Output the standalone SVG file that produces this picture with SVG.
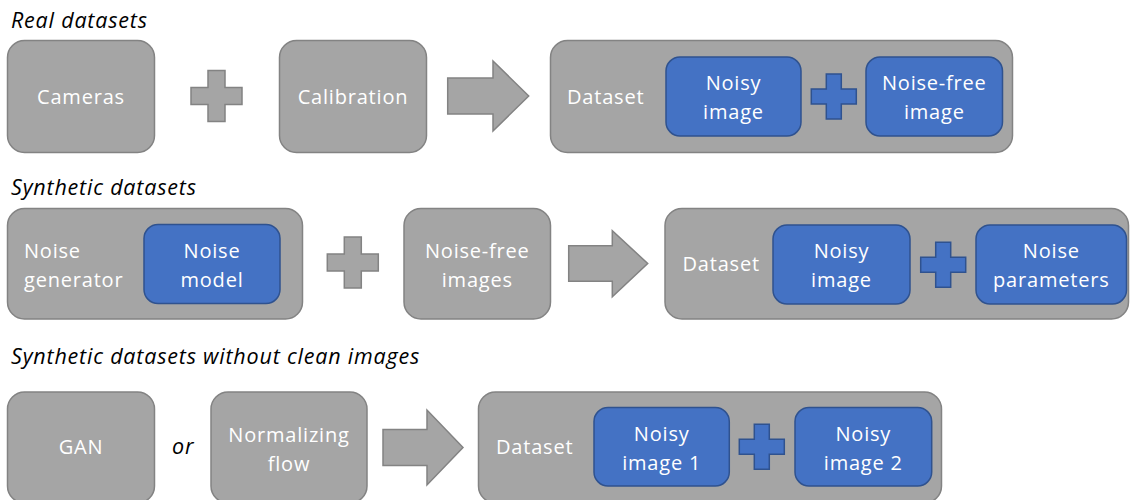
<svg xmlns="http://www.w3.org/2000/svg" width="1130" height="500" viewBox="0 0 1130 500">
<style>
.g{fill:#A5A5A5;stroke:#838383;stroke-width:1.5}
.b{fill:#4472C4;stroke:#2F528F;stroke-width:1.5}
.t{font-family:"Open Sans","Noto Sans",sans-serif;font-size:20px;fill:#FFFFFF;letter-spacing:0.8px}
.c{text-anchor:middle}
.h{font-family:"Open Sans","Noto Sans",sans-serif;font-size:21.5px;font-style:italic;fill:#000000;letter-spacing:0.8px}
</style>
<rect width="1130" height="500" fill="#FFFFFF"/>
<text class="h" x="11" y="28">Real datasets</text>
<text class="h" x="11" y="195">Synthetic datasets</text>
<text class="h" x="11" y="364">Synthetic datasets without clean images</text>

<g id="cameras"><rect class="g" x="7.5" y="40.5" width="147" height="112" rx="17"/><text class="t c" x="81" y="104">Cameras</text></g>
<g id="calibration"><rect class="g" x="279.5" y="40.5" width="147" height="112" rx="17"/><text class="t c" x="353" y="104">Calibration</text></g>
<g id="dataset1"><rect class="g" x="550.5" y="40.5" width="462" height="112" rx="17"/><text class="t" x="567" y="104">Dataset</text>
<rect class="b" x="666" y="57" width="135" height="79" rx="14"/><text class="t c" x="733.5" y="90">Noisy</text><text class="t c" x="733.5" y="118.5">image</text>
<path class="b" d="M826.3,74H841.3V89H856.3V104H841.3V119H826.3V104H811.3V89H826.3Z"/>
<rect class="b" x="866" y="57" width="136.5" height="79" rx="14"/><text class="t c" x="934.3" y="90">Noise-free</text><text class="t c" x="934.3" y="118.5">image</text></g>

<g id="noisegen"><rect class="g" x="7.5" y="208.5" width="295" height="110.5" rx="17"/><text class="t" x="24" y="258">Noise</text><text class="t" x="24" y="286.7">generator</text>
<rect class="b" x="144" y="224.5" width="136" height="79" rx="14"/><text class="t c" x="212" y="258">Noise</text><text class="t c" x="212" y="286.7">model</text></g>
<g id="noisefree"><rect class="g" x="404" y="208.5" width="146.5" height="110.5" rx="17"/><text class="t c" x="477.3" y="258">Noise-free</text><text class="t c" x="477.3" y="286.7">images</text></g>
<g id="dataset2"><rect class="g" x="665" y="208.5" width="463.5" height="110.5" rx="17"/><text class="t" x="682.5" y="271">Dataset</text>
<rect class="b" x="773" y="225" width="137" height="79" rx="14"/><text class="t c" x="841.5" y="258">Noisy</text><text class="t c" x="841.5" y="286.7">image</text>
<path class="b" d="M935.7,242.2H950.7V257.2H965.7V272.2H950.7V287.2H935.7V272.2H920.7V257.2H935.7Z"/>
<rect class="b" x="976" y="225" width="150.5" height="79" rx="14"/><text class="t c" x="1051.3" y="258">Noise</text><text class="t c" x="1051.3" y="286.7">parameters</text></g>

<g id="gan"><rect class="g" x="7.5" y="392" width="147" height="111" rx="17"/><text class="t c" x="81" y="454">GAN</text></g>
<text class="h" x="172" y="454">or</text>
<g id="normflow"><rect class="g" x="211" y="392" width="156" height="111" rx="17"/><text class="t c" x="289" y="442">Normalizing</text><text class="t c" x="289" y="471">flow</text></g>
<g id="dataset3"><rect class="g" x="478.5" y="392" width="463" height="111" rx="17"/><text class="t" x="496" y="454">Dataset</text>
<rect class="b" x="594" y="407.5" width="135.3" height="78.5" rx="14"/><text class="t c" x="661.7" y="441">Noisy</text><text class="t c" x="661.7" y="469.5">image 1</text>
<path class="b" d="M754.3,424.3H769.3V439.3H784.3V454.3H769.3V469.3H754.3V454.3H739.3V439.3H754.3Z"/>
<rect class="b" x="795" y="407.5" width="136.7" height="78.5" rx="14"/><text class="t c" x="863.3" y="441">Noisy</text><text class="t c" x="863.3" y="469.5">image 2</text></g>

<g id="connectors">
<path class="g" d="M208,70.5H225V87.5H242V104.5H225V121.5H208V104.5H191V87.5H208Z"/>
<path class="g" d="M447.7,78H493V61L528.7,96L493,131V114H447.7Z"/>
<path class="g" d="M344.3,237H361.3V254H378.3V271H361.3V288H344.3V271H327.3V254H344.3Z"/>
<path class="g" d="M568.7,245.7H612.3V230.7L647.7,263.5L612.3,296.7V281.3H568.7Z"/>
<path class="g" d="M383,429.5H427V410L463,447.5L427,485V465.5H383Z"/>
</g>
</svg>
